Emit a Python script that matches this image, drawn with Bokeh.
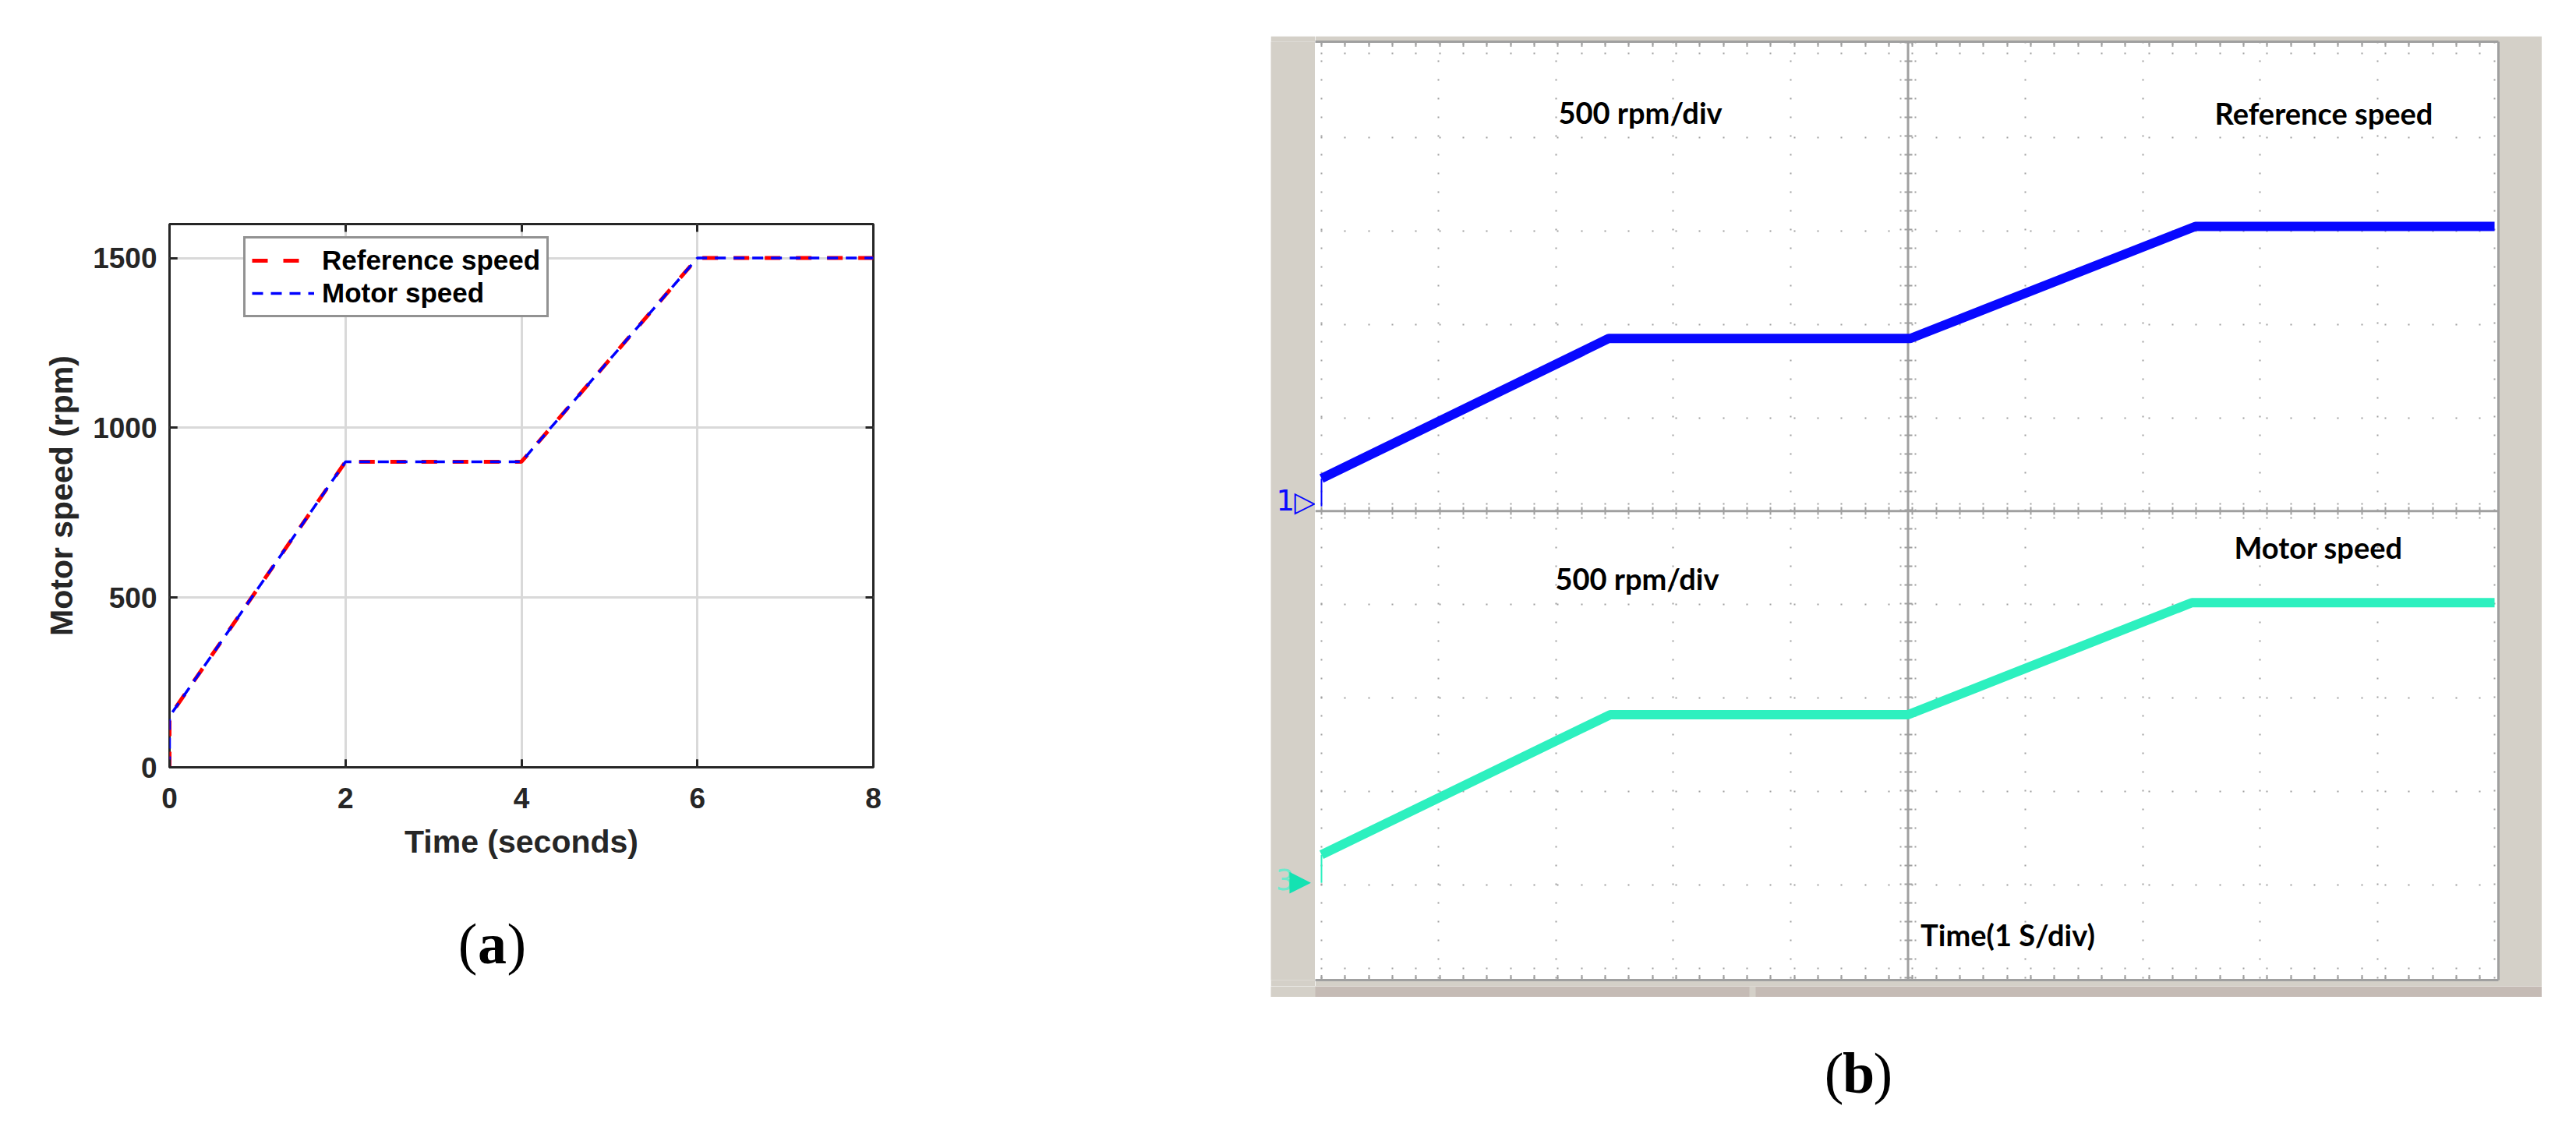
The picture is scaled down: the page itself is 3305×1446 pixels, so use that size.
from bokeh.plotting import figure
from bokeh.models import (Range1d, FixedTicker, SingleIntervalTicker, Grid, Span, BoxAnnotation,
                          Label, Legend, LegendItem, Spacer, LinearAxis)
from bokeh.layouts import row, column
from bokeh.embed import file_html
from bokeh.resources import INLINE

# ---------------- (a) simulation data ----------------
sim_time_s = [0, 0, 2, 4, 6, 8]
reference_speed_rpm = [0, 150, 900, 900, 1500, 1500]
motor_speed_rpm = [0, 150, 900, 900, 1500, 1500]
sim_x_ticks = [0, 2, 4, 6, 8]
sim_y_ticks = [0, 500, 1000, 1500]

# ---------------- (b) oscilloscope data ----------------
scope_ref_time_s = [0.0, 0.0, 2.45, 5.02, 7.45, 10.0]
scope_ref_rpm = [0, 150, 900, 900, 1500, 1500]
scope_motor_time_s = [0.0, 0.0, 2.46, 5.0, 7.42, 10.0]
scope_motor_rpm = [0, 150, 900, 900, 1500, 1500]
RPM_PER_DIV = 500
CH1_GROUND_DIV = 5.05
CH3_GROUND_DIV = 1.02
CENTER_DIV = 5

AX = "#262626"
FONT = "Liberation Sans"
SERIF = "Liberation Serif"
PANEL = "#d4d0c8"
GRAT = "#a0a0a0"
BLUE = "#0808ff"
CYAN = "#2df0bf"
SCOPE_FONT = "Lato"


def bare(fig):
    fig.grid.visible = False
    fig.outline_line_color = None
    return fig


def caption(fig, x, y, letter):
    fig.add_layout(Label(x=x, y=y, text=letter, text_align="center", text_baseline="alphabetic",
                         text_font=SERIF, text_font_style="bold", text_font_size="74px",
                         text_color="black"))
    fig.add_layout(Label(x=x, y=y, x_offset=-19, text="(", text_align="right",
                         text_baseline="alphabetic", text_font=SERIF, text_font_size="74px",
                         text_color="black"))
    fig.add_layout(Label(x=x, y=y, x_offset=19, text=")", text_align="left",
                         text_baseline="alphabetic", text_font=SERIF, text_font_size="74px",
                         text_color="black"))


# =============== left figure (a) ===============
p1 = figure(width=1630, height=1138, x_range=Range1d(0, 8), y_range=Range1d(0, 1600),
            output_backend="svg", toolbar_location=None,
            min_border_left=217, min_border_right=510, min_border_top=287, min_border_bottom=154)
p1.outline_line_color = AX
p1.outline_line_width = 3
p1.background_fill_color = "white"

p1.xaxis.ticker = FixedTicker(ticks=sim_x_ticks)
p1.yaxis.ticker = FixedTicker(ticks=sim_y_ticks)
p1.xgrid.ticker = FixedTicker(ticks=sim_x_ticks)
p1.ygrid.ticker = FixedTicker(ticks=sim_y_ticks)
p1.grid.grid_line_color = "#d9d9d9"
p1.grid.grid_line_width = 3

for ax in [p1.xaxis[0], p1.yaxis[0]]:
    ax.axis_line_color = None
    ax.major_tick_in = 10
    ax.major_tick_out = 0
    ax.major_tick_line_color = AX
    ax.major_tick_line_width = 3
    ax.minor_tick_line_color = None
    ax.major_label_text_font = FONT
    ax.major_label_text_font_style = "bold"
    ax.major_label_text_font_size = "37px"
    ax.major_label_text_color = AX
    ax.axis_label_text_font = FONT
    ax.axis_label_text_font_style = "bold"
    ax.axis_label_text_font_size = "41px"
    ax.axis_label_text_color = AX

p1.xaxis.axis_label = "Time (seconds)"
p1.yaxis.axis_label = "Motor speed (rpm)"
p1.xaxis.major_label_standoff = 26
p1.xaxis.axis_label_standoff = 17
p1.yaxis.major_label_standoff = 16
p1.yaxis.axis_label_standoff = 14

# inward ticks on the top and right box edges (dash at both ends of each grid line)
p1.add_layout(Grid(dimension=0, ticker=FixedTicker(ticks=sim_x_ticks), grid_line_color=AX,
                   grid_line_width=3, grid_line_dash="10 677"))
p1.add_layout(Grid(dimension=1, ticker=FixedTicker(ticks=sim_y_ticks), grid_line_color=AX,
                   grid_line_width=3, grid_line_dash="10 883"))

r_ref = p1.line(sim_time_s, reference_speed_rpm, line_color="#ff0000", line_width=5, line_dash="20 20")
r_mot = p1.line(sim_time_s, motor_speed_rpm, line_color="#0000ff", line_width=3.5, line_dash="14 10")

legend = Legend(items=[LegendItem(label="Reference speed", renderers=[r_ref]),
                       LegendItem(label="Motor speed", renderers=[r_mot])],
                location=(95, 577), label_text_font=FONT, label_text_font_style="bold",
                label_text_font_size="35px", label_text_color="black",
                border_line_color=AX, border_line_width=3, background_fill_color="white",
                background_fill_alpha=1.0, glyph_width=80, glyph_height=40, label_height=40,
                label_standoff=10, spacing=2, padding=8, margin=0)
p1.add_layout(legend)

# caption (a): same side borders as p1, range given in page pixels of the frame
pa = bare(figure(width=1630, height=300, x_range=Range1d(217, 1120), y_range=Range1d(0, 300),
                 output_backend="svg", toolbar_location=None,
                 x_axis_location=None, y_axis_location=None,
                 min_border_left=217, min_border_right=510, min_border_top=0, min_border_bottom=0))
caption(pa, 631, 228, "a")

left = column(p1, pa)

# =============== right: oscilloscope window (b) ===============
Y0, Y1 = -0.022, 10.028

# top edge line of the window
p0 = bare(figure(width=1631, height=2, x_range=Range1d(0, 1631), y_range=Range1d(0, 2),
                 output_backend="svg", toolbar_location=None,
                 x_axis_location=None, y_axis_location=None, min_border=0))
p0.background_fill_color = PANEL
p0.add_layout(BoxAnnotation(left=123, right=1507, fill_color="#a0a0a0", fill_alpha=1.0,
                            line_color=None, level="underlay"))

# left margin with channel markers
pm = bare(figure(width=57, height=1219, x_range=Range1d(-0.432, -0.053), y_range=Range1d(Y0, Y1),
                 output_backend="svg", toolbar_location=None,
                 x_axis_location=None, y_axis_location=None,
                 min_border_left=0, min_border_right=0, min_border_top=7, min_border_bottom=8))
pm.border_fill_color = PANEL
pm.background_fill_color = PANEL
pm.add_layout(Label(x=-0.385, y=5.12, text="1", text_font="DejaVu Sans", text_font_size="37px",
                    text_color=BLUE, text_baseline="alphabetic"))
pm.add_layout(Label(x=-0.233, y=5.105, text="\u25b7", text_font="DejaVu Sans", text_font_size="36px",
                    text_color=BLUE, text_baseline="alphabetic"))
pm.add_layout(Label(x=-0.39, y=1.055, text="3", text_font="DejaVu Sans", text_font_size="37px",
                    text_color="#70e8cc", text_baseline="alphabetic"))
pm.add_layout(Label(x=-0.275, y=1.045, text="\u25b6", text_font="DejaVu Sans", text_font_size="36px",
                    text_color="#14e2b2", text_baseline="alphabetic"))

p2 = figure(width=1574, height=1219, x_range=Range1d(-0.053, 10.033), y_range=Range1d(Y0, Y1),
            output_backend="svg", toolbar_location=None,
            x_axis_location=None, y_axis_location=None,
            min_border_left=0, min_border_right=56, min_border_top=7, min_border_bottom=8)
p2.grid.visible = False
p2.border_fill_color = PANEL
p2.background_fill_color = "white"
p2.outline_line_color = None

for loc in ["above", "below", "right"]:
    a = LinearAxis(ticker=FixedTicker(ticks=[]), axis_line_color=GRAT, axis_line_width=3,
                   major_tick_in=0, major_tick_out=0, major_tick_line_color=None,
                   minor_tick_line_color=None, major_label_standoff=0)
    p2.add_layout(a, loc)


def add_grid(dim, ticker, width, dash, offset):
    p2.add_layout(Grid(dimension=dim, ticker=ticker, grid_line_color=GRAT,
                       grid_line_width=width, grid_line_dash=dash,
                       grid_line_dash_offset=offset))


XDOTS = "2 28 2 28 2 29"
YDOTS = "2 22"
# dotted graticule
add_grid(0, SingleIntervalTicker(interval=1, num_minor_ticks=0), 2, YDOTS, 22)
add_grid(1, SingleIntervalTicker(interval=1, num_minor_ticks=0), 2, XDOTS, 23)
add_grid(1, FixedTicker(ticks=[0.1, 9.9]), 2, XDOTS, 23)
# border ticks on top and bottom edges
add_grid(1, FixedTicker(ticks=[0, 10]), 7, XDOTS, 23)
# centre cross ticks
add_grid(0, FixedTicker(ticks=[CENTER_DIV]), 10, YDOTS, 22)
add_grid(0, FixedTicker(ticks=[CENTER_DIV - 0.066, CENTER_DIV + 0.066]), 2, YDOTS, 22)
add_grid(1, FixedTicker(ticks=[CENTER_DIV]), 10, XDOTS, 23)
add_grid(1, FixedTicker(ticks=[CENTER_DIV - 0.075, CENTER_DIV + 0.075]), 2, XDOTS, 23)

p2.add_layout(Span(location=CENTER_DIV, dimension="height", line_color=GRAT, line_width=3, level="underlay"))
p2.add_layout(Span(location=CENTER_DIV, dimension="width", line_color=GRAT, line_width=3, level="underlay"))

p2.extra_y_ranges = {
    "ch1": Range1d((Y0 - CH1_GROUND_DIV) * RPM_PER_DIV, (Y1 - CH1_GROUND_DIV) * RPM_PER_DIV),
    "ch3": Range1d((Y0 - CH3_GROUND_DIV) * RPM_PER_DIV, (Y1 - CH3_GROUND_DIV) * RPM_PER_DIV),
}
p2.line(scope_ref_time_s[:2], scope_ref_rpm[:2], y_range_name="ch1", line_color=BLUE, line_width=2)
p2.line(scope_ref_time_s[1:], scope_ref_rpm[1:], y_range_name="ch1", line_color=BLUE, line_width=12)
p2.line(scope_motor_time_s[:2], scope_motor_rpm[:2], y_range_name="ch3", line_color=CYAN, line_width=2)
p2.line(scope_motor_time_s[1:], scope_motor_rpm[1:], y_range_name="ch3", line_color=CYAN, line_width=12)


def scope_text(x, y, t):
    p2.add_layout(Label(x=x, y=y, text=t, text_font=SCOPE_FONT, text_font_style="bold",
                        text_font_size="38px", text_color="black", text_baseline="alphabetic"))


scope_text(2.02, 9.273, "500 rpm/div")
scope_text(7.615, 9.262, "Reference speed")
scope_text(1.993, 4.277, "500 rpm/div")
scope_text(7.78, 4.611, "Motor speed")
scope_text(5.107, 0.47, "Time(1 S/div)")

# bottom strip of the scope window
p3 = bare(figure(width=1631, height=14, x_range=Range1d(0, 1631), y_range=Range1d(0, 14),
                 output_backend="svg", toolbar_location=None,
                 x_axis_location=None, y_axis_location=None, min_border=0))
p3.background_fill_color = PANEL
p3.add_layout(BoxAnnotation(left=57, right=1631, fill_color="#c5bbb5", fill_alpha=1.0,
                            line_color=None, level="underlay"))
p3.add_layout(Span(location=618, dimension="height", line_color=PANEL, line_width=8))

# caption (b)
p4 = bare(figure(width=1631, height=160, x_range=Range1d(0, 1631), y_range=Range1d(0, 160),
                 output_backend="svg", toolbar_location=None,
                 x_axis_location=None, y_axis_location=None, min_border=0))
caption(p4, 754, 63, "b")

right = column(Spacer(width=1631, height=44), p0, row(pm, p2), p3, p4)
layout = row(left, right)

open("out.html", "w").write(file_html(layout, INLINE))
